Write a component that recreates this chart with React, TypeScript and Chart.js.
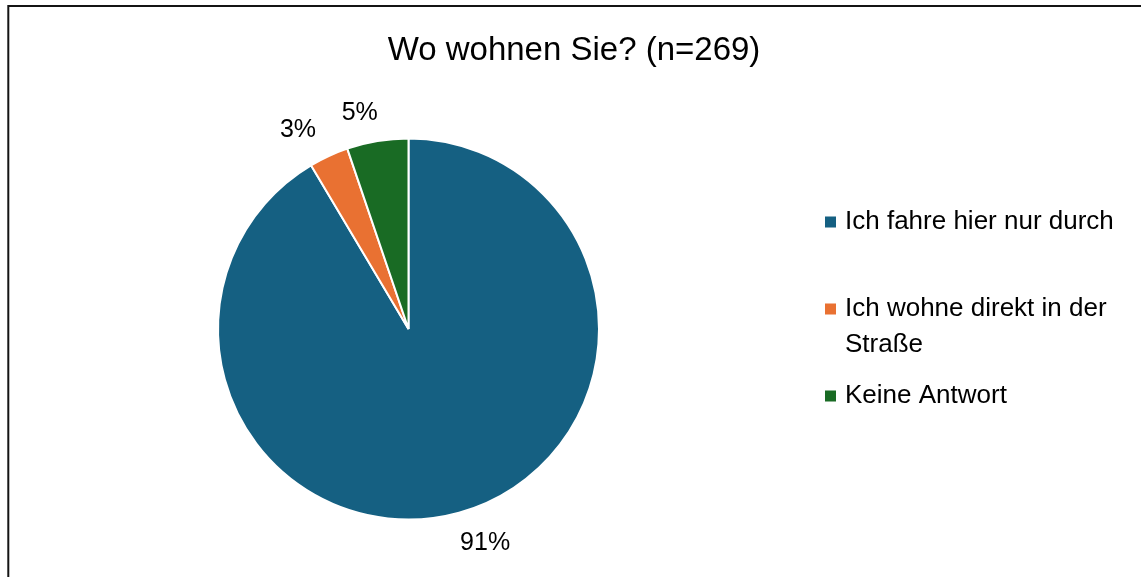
import React, { useEffect, useRef } from "react";
import { Chart, registerables } from "chart.js";

Chart.register(...registerables);

const TITLE = "Wo wohnen Sie? (n=269)";
const categories = ["Ich fahre hier nur durch", "Ich wohne direkt in der Straße", "Keine Antwort"];
const counts = [246, 9, 14];
const colors = ["#156082", "#E97132", "#196B24"];

const FONT = "'Liberation Sans', Arial, sans-serif";

const decorPlugin = {
  id: "decor",
  beforeDraw(chart: any) {
    const ctx = chart.ctx;
    ctx.save();
    ctx.fillStyle = "#ffffff";
    ctx.fillRect(0, 0, chart.width, chart.height);
    ctx.strokeStyle = "#141414";
    ctx.lineWidth = 2;
    ctx.strokeRect(8.3, 6, chart.width + 50, chart.height + 50);
    ctx.restore();
  },
  afterDraw(chart: any) {
    const ctx = chart.ctx;
    ctx.save();
    // title
    ctx.fillStyle = "#000000";
    ctx.font = `33px ${FONT}`;
    ctx.textAlign = "center";
    ctx.textBaseline = "middle";
    ctx.fillText(TITLE, 574, 51);

    // data labels
    const ds = chart.data.datasets[0];
    const vals: number[] = ds.data;
    const total = vals.reduce((a, b) => a + b, 0);
    const meta = chart.getDatasetMeta(0);
    ctx.font = `25px ${FONT}`;
    meta.data.forEach((arc: any, i: number) => {
      const mid = (arc.startAngle + arc.endAngle) / 2 - 0.075;
      const R = arc.outerRadius + 37;
      const x = arc.x + Math.cos(mid) * R;
      const y = arc.y + Math.sin(mid) * R;
      ctx.fillStyle = "#000000";
      ctx.fillText(Math.round((vals[i] / total) * 100) + "%", x + (i === 2 ? 5 : 0), y + (i === 2 ? 5 : 0));
    });

    // legend
    const labels: string[] = chart.data.labels;
    ctx.font = `26px ${FONT}`;
    ctx.textAlign = "left";
    const boxX = 825;
    const textX = 845;
    const maxW = 285;
    labels.forEach((lab, i) => {
      const words = lab.split(" ");
      const lines: string[] = [];
      let cur = "";
      words.forEach((w) => {
        const t = cur ? cur + " " + w : w;
        if (ctx.measureText(t).width > maxW && cur) {
          lines.push(cur);
          cur = w;
        } else cur = t;
      });
      if (cur) lines.push(cur);
      const y0 = 222 + i * 87;
      ctx.fillStyle = ds.backgroundColor[i];
      ctx.fillRect(boxX, y0 - 5.5, 11, 11);
      ctx.fillStyle = "#000000";
      lines.forEach((ln, j) => ctx.fillText(ln, textX, y0 + j * 36));
    });
    ctx.restore();
  },
};

export default function App() {
  const ref = useRef<HTMLCanvasElement | null>(null);
  useEffect(() => {
    if (!ref.current) return;
    const chart = new Chart(ref.current, {
      type: "pie",
      data: {
        labels: categories,
        datasets: [
          {
            data: counts,
            backgroundColor: colors,
            borderColor: "#ffffff",
            borderWidth: 2,
          },
        ],
      },
      options: {
        responsive: false,
        animation: false,
        layout: { padding: { left: 217, right: 541, top: 137, bottom: 56 } },
        plugins: {
          legend: { display: false },
          title: { display: false },
          tooltip: { enabled: false },
        },
      },
      plugins: [decorPlugin],
    });
    return () => chart.destroy();
  }, []);
  return (
    <div style={{ position: "fixed", left: 0, top: 0, width: 1141, height: 577 }}>
      <canvas ref={ref} width={1141} height={577} style={{ display: "block" }} />
    </div>
  );
}
